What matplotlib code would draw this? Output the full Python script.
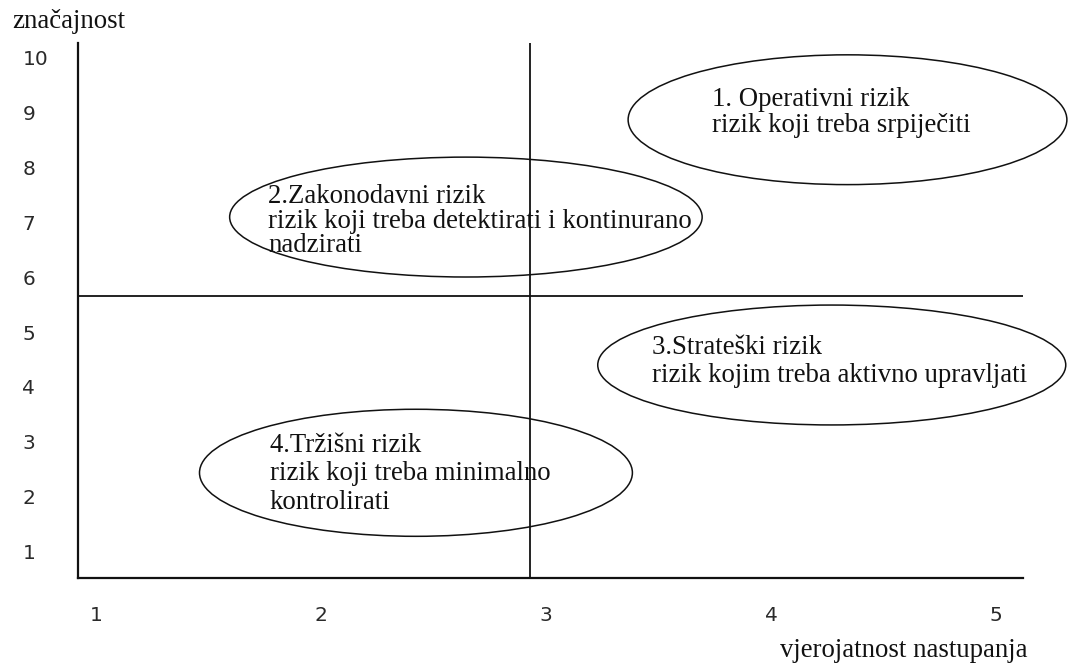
import matplotlib
matplotlib.use("Agg")
import matplotlib.pyplot as plt
from matplotlib.patches import Ellipse

# ---- data ----
x_ticks = [1, 2, 3, 4, 5]
y_ticks = [1, 2, 3, 4, 5, 6, 7, 8, 9, 10]
x_label = "vjerojatnost nastupanja"
y_label = "značajnost"
divider_x = 2.93
divider_y = 5.65

risk_texts = [
    "1. Operativni rizik\nrizik koji treba srpiječiti",
    "2.Zakonodavni rizik\nrizik koji treba detektirati i kontinurano\nnadzirati",
    "3.Strateški rizik\nrizik kojim treba aktivno upravljati",
    "4.Tržišni rizik\nrizik koji treba minimalno\nkontrolirati",
]
ell_cx = [4.34, 2.644, 4.27, 2.422]
ell_cy = [8.86, 7.09, 4.40, 2.44]
ell_w = [1.95, 2.10, 2.08, 1.924]
ell_h = [2.36, 2.18, 2.18, 2.31]
text_x = [3.74, 1.764, 3.471, 1.773]
text_y = [8.99, 7.015, 4.47, 2.42]
text_ls = [1.02, 0.97, 1.17, 1.18]

# ---- figure ----
W, H = 1068, 667
fig = plt.figure(figsize=(W / 100, H / 100), dpi=100)
ax = fig.add_axes([78 / W, 1 - 578 / H, (1023 - 78) / W, (578 - 43) / H])
ax.set_xlim(0.92, 5.12)
ax.set_ylim(0.527, 10.255)

for s in ["top", "right"]:
    ax.spines[s].set_visible(False)
for s in ["left", "bottom"]:
    ax.spines[s].set_linewidth(1.6)
    ax.spines[s].set_color("#111111")

ax.set_xticks(x_ticks)
ax.set_yticks(y_ticks)
ax.set_xticklabels([str(v) for v in x_ticks], fontsize=14.5, family="DejaVu Sans", color="#2a2a2a")
ax.set_yticklabels([str(v) for v in y_ticks], fontsize=14.5, family="DejaVu Sans", color="#2a2a2a")
ax.tick_params(axis="x", length=0, pad=20)
ax.tick_params(axis="y", length=0, pad=40)
for lab in ax.get_yticklabels():
    lab.set_horizontalalignment("left")

ax.axvline(divider_x, color="#111111", lw=1.3)
ax.axhline(divider_y, color="#111111", lw=1.3)

for cx, cy, w, h in zip(ell_cx, ell_cy, ell_w, ell_h):
    e = Ellipse((cx, cy), w, h, fill=False, edgecolor="#111111", lw=1.1, clip_on=False)
    ax.add_patch(e)

for t, tx, ty, ls in zip(risk_texts, text_x, text_y, text_ls):
    ax.text(tx, ty, t, ha="left", va="center", fontsize=19.3,
            family="Liberation Serif", color="#111111", linespacing=ls)

fig.text(12 / W, 1 - 22 / H, y_label, ha="left", va="center",
         fontsize=19.3, family="Liberation Serif", color="#111111")
fig.text(1028 / W, 1 - 657 / H, x_label, ha="right", va="baseline",
         fontsize=19.3, family="Liberation Serif", color="#111111")

fig.savefig("out.png", dpi=100)
